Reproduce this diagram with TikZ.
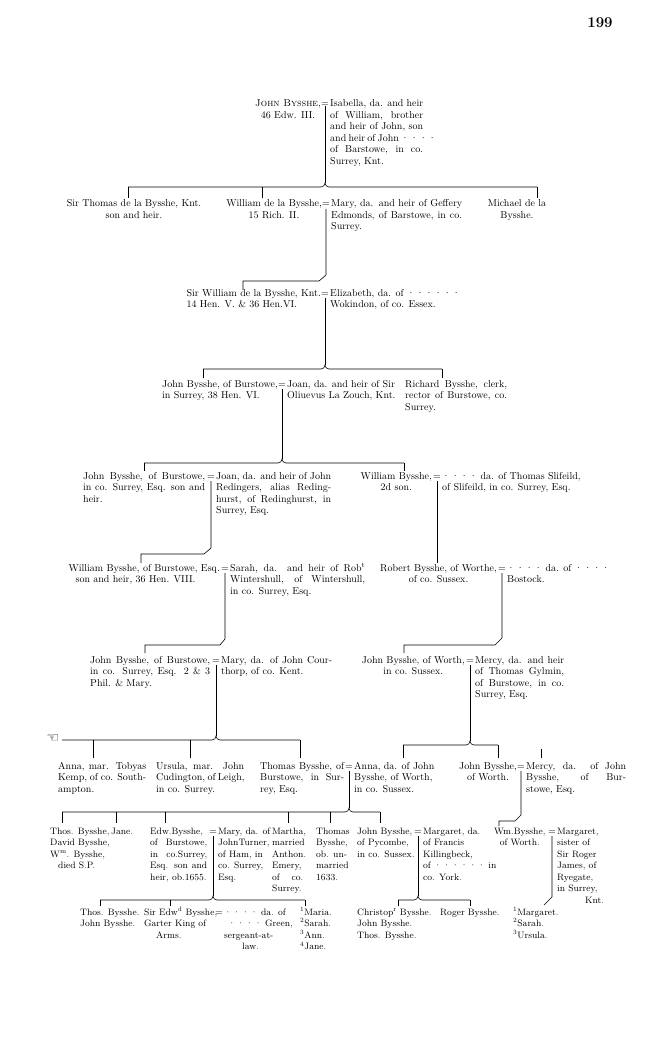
\documentclass[tikz,border=0pt]{standalone}
\usepackage{fontspec}
\newfontfamily\symfont{DejaVu Sans}
\newcommand\JL[2]{\makebox[#1pt][s]{#2}}
\newcommand\dts{·\kern1.3pt·\kern1.3pt·\kern1.3pt·}
\newcommand\dtss{·\kern1.3pt·\kern1.3pt·\kern1.3pt·\kern1.3pt·\kern1.3pt·}
\newcommand\sups[1]{\textsuperscript{#1}}
\newcommand\TL[1]{\begin{tabular}[t]{@{}l@{}}#1\end{tabular}}
\newcommand\TC[1]{\begin{tabular}[t]{@{}c@{}}#1\end{tabular}}
\begin{document}
\begin{tikzpicture}[x=1pt,y=-1pt,
 txt/.style={anchor=base west,inner sep=0pt,font=\fontsize{10}{11.5}\selectfont},
 txs/.style={txt,font=\fontsize{9.3}{11.5}\selectfont},
 ctr/.style={txt,anchor=base},
 hus/.style={txt,anchor=base east},
 eqs/.style={anchor=base,inner sep=0pt,font=\fontsize{10}{11.5}\selectfont},
 ln/.style={line width=0.6pt}]
\fill[white] (0,0) rectangle (650,1040);
\useasboundingbox (0,0) rectangle (650,1040);
\node[anchor=base,inner sep=0pt,font=\bfseries\fontsize{15}{16}\selectfont] (pg) at (600,28) {199};
% Gen 1
\node[hus] (jb1) at (321,107) {\TC{\textsc{John Bysshe},\\46 Edw. III.}};
\node[eqs] (e1) at (325,107) {=};
\node[txt] (isa) at (330,107) {\TL{\JL{93}{Isabella, da. and heir}\\\JL{93}{of William, brother}\\\JL{93}{and heir of John, son}\\\JL{93}{and heir of John \dts}\\\JL{93}{of Barstowe, in co.}\\Surrey, Knt.}};
% Gen 2
\node[ctr] (tho) at (134,207) {\TC{Sir Thomas de la Bysshe, Knt.\\son and heir.}};
\node[hus] (wil) at (322,207) {\TC{William de la Bysshe,\\15 Rich. II.}};
\node[eqs] (e2) at (326,207) {=};
\node[txt] (mary2) at (331,207) {\TL{\JL{131}{Mary, da. and heir of Geffery}\\\JL{131}{Edmonds, of Barstowe, in co.}\\Surrey.}};
\node[ctr] (mic) at (517,207) {\TC{Michael de la\\Bysshe.}};
% Gen 3
\node[hus] (swil) at (321,296) {\TL{Sir William de la Bysshe, Knt.\\14 Hen. V. \& 36 Hen.VI.}};
\node[eqs] (e3) at (325,296) {=};
\node[txt] (eliz) at (330,296) {\TL{Elizabeth, da. of \dtss\\Wokindon, of co. Essex.}};
% Gen 4
\node[hus] (jb4) at (278,387) {\TL{John Bysshe, of Burstowe,\\in Surrey, 38 Hen. VI.}};
\node[eqs] (e4) at (282,387) {=};
\node[txt] (joan4) at (287,387) {\TL{Joan, da. and heir of Sir\\Oliuevus La Zouch, Knt.}};
\node[txt] (ric) at (405,387) {\TL{\JL{102}{Richard Bysshe, clerk,}\\\JL{102}{rector of Burstowe, co.}\\Surrey.}};
% Gen 5
\node[txt] (jb5) at (83,479) {\TL{\JL{122}{John Bysshe, of Burstowe,}\\\JL{122}{in co. Surrey, Esq. son and}\\heir.}};
\node[eqs] (e5) at (211,479) {=};
\node[txt] (joan5) at (216,479) {\TL{\JL{115}{Joan, da. and heir of John}\\\JL{115}{Redingers, alias Reding-}\\\JL{115}{hurst, of Redinghurst, in}\\Surrey, Esq.}};
\node[hus] (wb5) at (432,479) {\TC{William Bysshe,\\2d son.}};
\node[eqs] (e5b) at (437,479) {=};
\node[txt] (sli) at (442,479) {\TL{\dts{} da. of Thomas Slifeild,\\of Slifeild, in co. Surrey, Esq.}};
% Gen 6
\node[hus] (wb6) at (220,571) {\TL{William Bysshe, of Burstowe, Esq.\\\hspace*{7pt}son and heir, 36 Hen. VIII.}};
\node[eqs] (e6) at (225,571) {=};
\node[txt] (sar) at (230,571) {\TL{\JL{135}{Sarah, da. and heir of Rob\sups{t}}\\\JL{135}{Wintershull, of Wintershull,}\\in co. Surrey, Esq.}};
\node[hus] (rob) at (497,571) {\TC{Robert Bysshe, of Worthe,\\of co. Sussex.}};
\node[eqs] (e6b) at (502,571) {=};
\node[txt] (bos) at (507,571) {\TL{\dts{} da. of \dts\\Bostock.}};
% Gen 7
\node[txt] (jb7) at (90,663) {\TL{\JL{120}{John Bysshe, of Burstowe,}\\\JL{120}{in co. Surrey, Esq. 2 \& 3}\\Phil. \& Mary.}};
\node[eqs] (e7) at (216,663) {=};
\node[txt] (mary7) at (221,663) {\TL{\JL{111}{Mary, da. of John Cour-}\\thorp, of co. Kent.}};
\node[hus] (jw7) at (465,663) {\TC{John Bysshe, of Worth,\\in co. Sussex.}};
\node[eqs] (e7b) at (470,663) {=};
\node[txt] (mer7) at (475,663) {\TL{\JL{89}{Mercy, da. and heir}\\\JL{89}{of Thomas Gylmin,}\\\JL{89}{of Burstowe, in co.}\\Surrey, Esq.}};
% Gen 8
\node[inner sep=0pt,font=\symfont\fontsize{14}{14}\selectfont] (hand) at (53,739) {☜};
\node[txt] (anna) at (58,769) {\TL{\JL{88}{Anna, mar. Tobyas}\\\JL{88}{Kemp, of co. South-}\\ampton.}};
\node[txt] (urs) at (156,769) {\TL{\JL{88}{Ursula, mar. John}\\\JL{88}{Cudington, of Leigh,}\\in co. Surrey.}};
\node[txt] (thb) at (260,769) {\TL{\JL{84}{Thomas Bysshe, of}\\\JL{84}{Burstowe, in Sur-}\\rey, Esq.}};
\node[eqs] (e8) at (349,769) {=};
\node[txt] (anw) at (354,769) {\TL{Anna, da. of John\\Bysshe, of Worth,\\in co. Sussex.}};
\node[hus] (jw8) at (517,769) {\TC{John Bysshe,\\of Worth.}};
\node[eqs] (e8b) at (521,769) {=};
\node[txt] (mer8) at (526,769) {\TL{\JL{100}{Mercy, da. of John}\\\JL{100}{Bysshe, of Bur-}\\stowe, Esq.}};
% Gen 9
\node[txs] (tdw) at (50,834) {\TL{Thos. Bysshe,\\David Bysshe,\\W\sups{m}. Bysshe,\\\hspace*{8pt}died S.P.}};
\node[txs] (jane) at (111,834) {Jane.};
\node[txs] (edw) at (150,834) {\TL{\JL{57}{Edw.Bysshe,}\\\JL{57}{of Burstowe,}\\\JL{57}{in co.Surrey,}\\\JL{57}{Esq. son and}\\heir, ob.1655.}};
\node[eqs] (e9) at (213,834) {=};
\node[txs] (mary9) at (218,834) {\TL{Mary, da. of\\JohnTurner,\\of Ham, in\\co. Surrey,\\Esq.}};
\node[txs] (mar) at (272,834) {\TL{Martha,\\married\\Anthon.\\Emery,\\\JL{31}{of co.}\\Surrey.}};
\node[txs] (thm) at (316,834) {\TL{Thomas\\Bysshe,\\ob. un-\\married\\1633.}};
\node[txs] (jp) at (357,834) {\TL{John Bysshe,\\of Pycombe,\\in co. Sussex.}};
\node[eqs] (e9b) at (418,834) {=};
\node[txs] (marg) at (423,834) {\TL{Margaret, da.\\of Francis\\Killingbeck,\\of \dtss{} in\\co. York.}};
\node[txs] (wmw) at (494,834) {\TC{Wm.Bysshe,\\of Worth.}};
\node[eqs] (e9c) at (552,834) {=};
\node[txs] (marg2) at (557,834) {\TL{Margaret,\\sister of\\Sir Roger\\James, of\\Ryegate,\\in Surrey,\\\hspace*{28pt}Knt.}};
% Gen 10
\node[txs] (tjb) at (80,915) {\TL{Thos. Bysshe.\\John Bysshe.}};
\node[txs] (sed) at (144,915) {\TL{Sir Edw\sups{d} Bysshe,\\Garter King of\\\hspace*{12pt}Arms.}};
\node[eqs] (e10) at (219,915) {=};
\node[txs] (grn) at (224,915) {\TL{\dts{} da. of\\\hspace*{4pt}\dts{} Green,\\sergeant-at-\\\hspace*{18pt}law.}};
\node[txs] (msaj) at (300,915) {\TL{\sups{1}Maria.\\\sups{2}Sarah.\\\sups{3}Ann.\\\sups{4}Jane.}};
\node[txs] (cjt) at (357,915) {\TL{Christop\sups{r} Bysshe.\\John Bysshe.\\Thos. Bysshe.}};
\node[txs] (rog) at (440,915) {Roger Bysshe.};
\node[txs] (msu) at (513,915) {\TL{\sups{1}Margaret.\\\sups{2}Sarah.\\\sups{3}Ursula.}};
% ---------- connectors ----------
\coordinate (a1) at (325,106); \coordinate (a1t) at (325,183);
\coordinate (a1l) at (321,187); \coordinate (a1r) at (329,187);
\coordinate (h2a) at (128,187); \coordinate (h2b) at (262,187); \coordinate (h2c) at (537,187);
\coordinate (k2a) at (128,198); \coordinate (k2b) at (262,198); \coordinate (k2c) at (537,198);
\draw[ln] (a1) -- (a1t);
\draw[ln] (h2a) -- (a1l) to[out=0,in=-90] (a1t) to[out=-90,in=180] (a1r) -- (h2c);
\draw[ln] (h2a) -- (k2a); \draw[ln] (h2b) -- (k2b); \draw[ln] (h2c) -- (k2c);
\coordinate (a2) at (326,209); \coordinate (a2c) at (326,275); \coordinate (a2d) at (319,281);
\coordinate (a2e) at (243,281); \coordinate (a2f) at (243,290);
\draw[ln] (a2) -- (a2c) -- (a2d) -- (a2e) -- (a2f);
\coordinate (a3) at (325,298); \coordinate (a3t) at (325,365);
\coordinate (a3l) at (321,369); \coordinate (a3r) at (329,369);
\coordinate (h4a) at (203,369); \coordinate (h4b) at (442,369);
\coordinate (k4a) at (203,378); \coordinate (k4b) at (442,378);
\draw[ln] (a3) -- (a3t);
\draw[ln] (h4a) -- (a3l) to[out=0,in=-90] (a3t) to[out=-90,in=180] (a3r) -- (h4b);
\draw[ln] (h4a) -- (k4a); \draw[ln] (h4b) -- (k4b);
\coordinate (a4) at (282,389); \coordinate (a4t) at (282,459);
\coordinate (a4l) at (278,463); \coordinate (a4r) at (286,463);
\coordinate (h5a) at (144,463); \coordinate (h5b) at (404,463);
\coordinate (k5a) at (144,471); \coordinate (k5b) at (404,471);
\draw[ln] (a4) -- (a4t);
\draw[ln] (h5a) -- (a4l) to[out=0,in=-90] (a4t) to[out=-90,in=180] (a4r) -- (h5b);
\draw[ln] (h5a) -- (k5a); \draw[ln] (h5b) -- (k5b);
\coordinate (a5) at (211,481); \coordinate (a5c) at (211,548); \coordinate (a5d) at (204,554);
\coordinate (a5e) at (141,554); \coordinate (a5f) at (141,563);
\draw[ln] (a5) -- (a5c) -- (a5d) -- (a5e) -- (a5f);
\coordinate (b5) at (437,481); \coordinate (b5f) at (437,563);
\draw[ln] (b5) -- (b5f);
\coordinate (a6) at (225,573); \coordinate (a6c) at (225,639); \coordinate (a6d) at (220,645);
\coordinate (a6e) at (145,645); \coordinate (a6f) at (145,653);
\draw[ln] (a6) -- (a6c) -- (a6d) -- (a6e) -- (a6f);
\coordinate (b6) at (502,573); \coordinate (b6c) at (502,638); \coordinate (b6d) at (495,645);
\coordinate (b6e) at (404,645); \coordinate (b6f) at (404,653);
\draw[ln] (b6) -- (b6c) -- (b6d) -- (b6e) -- (b6f);
\coordinate (a7) at (216,665); \coordinate (a7t) at (216,736);
\coordinate (a7l) at (212,740); \coordinate (a7r) at (220,740);
\coordinate (h8a) at (62,740); \coordinate (h8b) at (93,740); \coordinate (h8c) at (190,740); \coordinate (h8d) at (300,740);
\coordinate (k8b) at (93,758); \coordinate (k8c) at (190,758); \coordinate (k8d) at (300,758);
\draw[ln] (a7) -- (a7t);
\draw[ln] (h8a) -- (a7l) to[out=0,in=-90] (a7t) to[out=-90,in=180] (a7r) -- (h8d);
\draw[ln] (h8b) -- (k8b); \draw[ln] (h8c) -- (k8c); \draw[ln] (h8d) -- (k8d);
\coordinate (b7) at (470,665); \coordinate (b7t) at (470,741);
\coordinate (b7l) at (466,745); \coordinate (b7r) at (474,745);
\coordinate (h8e) at (403,745); \coordinate (h8f) at (498,745);
\coordinate (k8e) at (403,758); \coordinate (k8f) at (498,758);
\draw[ln] (b7) -- (b7t);
\draw[ln] (h8e) -- (b7l) to[out=0,in=-90] (b7t) to[out=-90,in=180] (b7r) -- (h8f);
\draw[ln] (h8e) -- (k8e); \draw[ln] (h8f) -- (k8f);
\coordinate (m8a) at (541,749); \coordinate (m8b) at (541,758);
\draw[ln] (m8a) -- (m8b);
% gen8 -> gen9
\coordinate (a8) at (349,771); \coordinate (a8t) at (349,808);
\coordinate (a8l) at (345,812); \coordinate (a8r) at (353,812);
\coordinate (h9a) at (62,812); \coordinate (h9b) at (116,812); \coordinate (h9c) at (165,812);
\coordinate (h9d) at (288,812); \coordinate (h9e) at (330,812); \coordinate (h9f) at (380,812);
\coordinate (k9a) at (62,823); \coordinate (k9b) at (116,823); \coordinate (k9c) at (165,823);
\coordinate (k9d) at (288,823); \coordinate (k9e) at (330,823); \coordinate (k9f) at (380,823);
\draw[ln] (a8) -- (a8t);
\draw[ln] (h9a) -- (a8l) to[out=0,in=-90] (a8t) to[out=-90,in=180] (a8r) -- (h9f);
\foreach \p in {a,b,c,d,e,f} {\draw[ln] (h9\p) -- (k9\p);}
\coordinate (b8) at (521,771); \coordinate (b8c) at (521,815); \coordinate (b8d) at (515,821);
\coordinate (b8e) at (499,821); \coordinate (b8f) at (499,826);
\draw[ln] (b8) -- (b8c) -- (b8d) -- (b8e) -- (b8f);
% gen9 -> gen10
\coordinate (a9) at (213,836); \coordinate (a9t) at (213,896);
\coordinate (a9l) at (209,900); \coordinate (a9r) at (217,900);
\coordinate (h10a) at (100,900); \coordinate (h10b) at (170,900); \coordinate (h10c) at (305,900);
\coordinate (k10a) at (100,906); \coordinate (k10b) at (170,906); \coordinate (k10c) at (305,906);
\draw[ln] (a9) -- (a9t);
\draw[ln] (h10a) -- (a9l) to[out=0,in=-90] (a9t) to[out=-90,in=180] (a9r) -- (h10c);
\draw[ln] (h10a) -- (k10a); \draw[ln] (h10b) -- (k10b); \draw[ln] (h10c) -- (k10c);
\coordinate (b9) at (418,836); \coordinate (b9t) at (418,896);
\coordinate (b9l) at (414,900); \coordinate (b9r) at (422,900);
\coordinate (h10d) at (398,900); \coordinate (h10e) at (470,900);
\coordinate (k10d) at (398,906); \coordinate (k10e) at (470,906);
\draw[ln] (b9) -- (b9t);
\draw[ln] (h10d) -- (b9l) to[out=0,in=-90] (b9t) to[out=-90,in=180] (b9r) -- (h10e);
\draw[ln] (h10d) -- (k10d); \draw[ln] (h10e) -- (k10e);
\coordinate (c9) at (552,836); \coordinate (c9c) at (552,897); \coordinate (c9d) at (544,905);
\draw[ln] (c9) -- (c9c) -- (c9d);
\end{tikzpicture}
\end{document}
